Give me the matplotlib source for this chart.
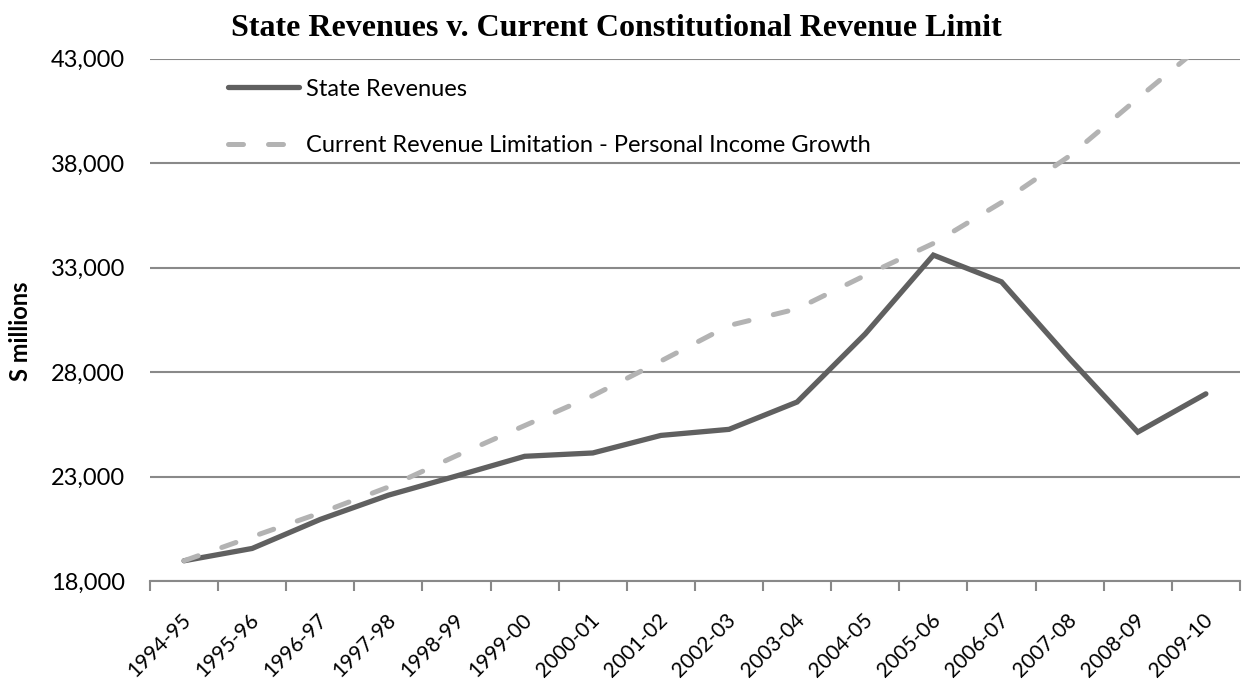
import matplotlib

matplotlib.use("Agg")
import matplotlib.pyplot as plt  # noqa: E402
import matplotlib.transforms as mtransforms  # noqa: E402
import numpy as np  # noqa: E402
from matplotlib.ticker import FuncFormatter, FixedLocator  # noqa: E402

years = ["1994-95", "1995-96", "1996-97", "1997-98", "1998-99", "1999-00",
         "2000-01", "2001-02", "2002-03", "2003-04", "2004-05", "2005-06",
         "2006-07", "2007-08", "2008-09", "2009-10"]
state_revenues = [18970, 19560, 20950, 22110, 23030, 23970, 24130, 24970,
                  25260, 26570, 29830, 33600, 32320, 28640, 25130, 26960]
revenue_limit = [18970, 20120, 21260, 22500, 24000, 25440, 26870, 28530,
                 30230, 31030, 32630, 34160, 36120, 38350, 41100, 43800]
y_ticks = [18000, 23000, 28000, 33000, 38000, 43000]

plt.rcParams["font.family"] = ["Lato", "DejaVu Sans"]
FS = 17

fig = plt.figure(figsize=(12.55, 6.86), dpi=100)
ax = fig.add_axes([0.1195, 0.153, 0.8685, 0.7614])

x = np.arange(len(years))
ax.plot(x, state_revenues, color="#606060", lw=3.8, solid_joinstyle="miter",
        solid_capstyle="round", label="State Revenues")
ax.plot(x, revenue_limit, color="#b3b3b3", lw=3.6, dashes=(3, 5),
        dash_capstyle="round", label="Current Revenue Limitation - Personal Income Growth")

ax.set_xlim(-0.5, len(years) - 0.5)
ax.set_ylim(y_ticks[0], y_ticks[-1])
ax.set_yticks(y_ticks)
ax.yaxis.set_major_formatter(FuncFormatter(lambda v, _: f"{int(v):,}"))
ax.tick_params(axis="y", length=0, pad=18, labelsize=FS)
ax.grid(axis="y", color="#898989", lw=1.5)
ax.set_axisbelow(True)

# category labels sit under the centres, boundary ticks in between
ax.set_xticks(x)
ax.set_xticklabels(years, rotation=45, ha="right", rotation_mode="anchor", fontsize=15)
ax.tick_params(axis="x", which="major", length=0, pad=21)
shift = mtransforms.ScaledTranslation(-3 / 100, 0, fig.dpi_scale_trans)
for lbl in ax.get_xticklabels():
    lbl.set_transform(lbl.get_transform() + shift)
ax.xaxis.set_minor_locator(FixedLocator(np.arange(-0.5, len(years), 1.0)))
ax.tick_params(axis="x", which="minor", length=7, width=1.5, color="#898989")

for side in ("top", "right", "left"):
    ax.spines[side].set_visible(False)
ax.spines["bottom"].set_color("#898989")
ax.spines["bottom"].set_linewidth(1.5)

ax.set_ylabel("S millions", fontsize=FS, fontweight="bold")
ax.yaxis.set_label_coords(-0.108, 0.479)

ax.legend(loc="upper left", bbox_to_anchor=(0.0716, 0.962), frameon=False,
          fontsize=FS, handlelength=3.0, handletextpad=0.3, labelspacing=1.5,
          borderpad=0, borderaxespad=0)

fig.text(0.491, 0.947, "State Revenues v. Current Constitutional Revenue Limit",
         ha="center", va="baseline", fontsize=23, fontweight="bold",
         family="Liberation Serif")

fig.savefig("out.png", dpi=100, facecolor="white")
